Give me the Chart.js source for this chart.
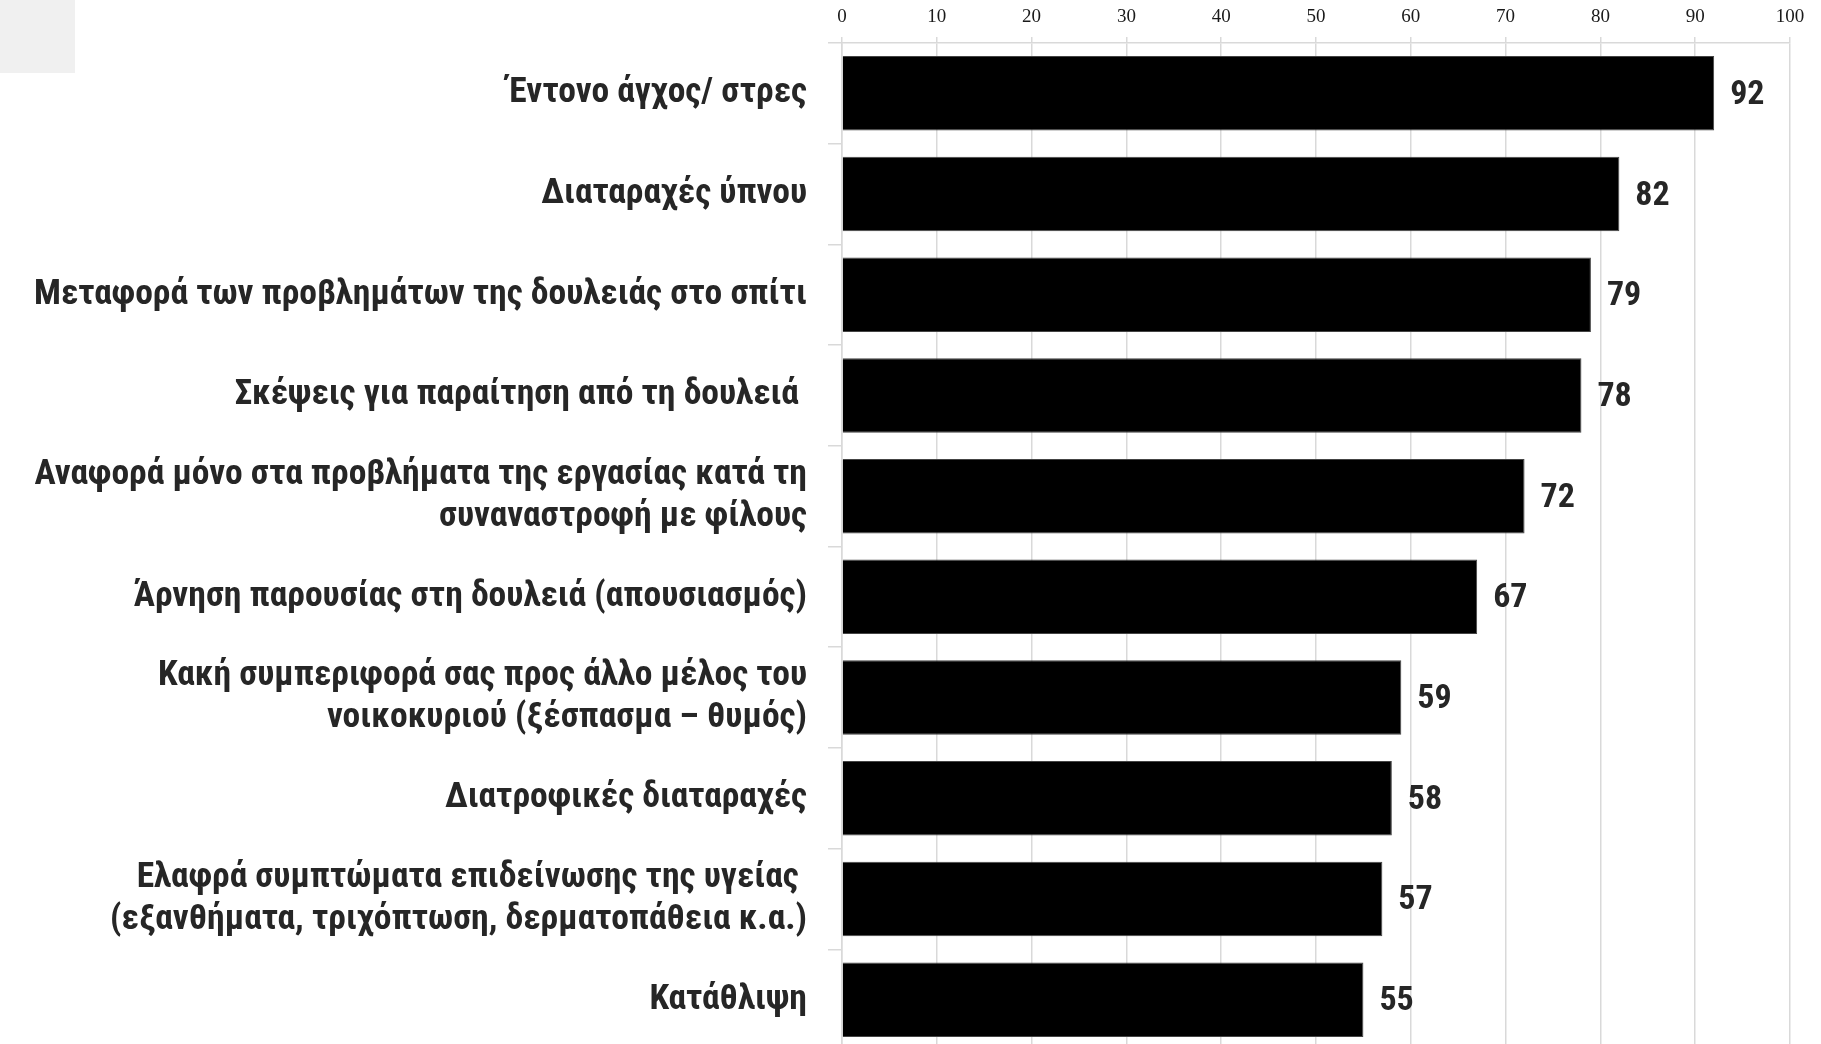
<!DOCTYPE html>
<html>
<head>
<meta charset="utf-8">
<script src="https://cdn.jsdelivr.net/npm/chart.js@4/dist/chart.umd.min.js"></script>
<style>
  html, body { margin: 0; padding: 0; background: #fff; overflow: hidden; }
  #wrap { width: 1821px; height: 1052px; }
</style>
</head>
<body>
<div id="wrap"><canvas id="myChart"></canvas></div>
<script>
const categories = [
  "Έντονο άγχος/ στρες",
  "Διαταραχές ύπνου",
  "Μεταφορά των προβλημάτων της δουλειάς στο σπίτι",
  "Σκέψεις για παραίτηση από τη δουλειά ",
  ["Αναφορά μόνο στα προβλήματα της εργασίας κατά τη", "συναναστροφή με φίλους"],
  "Άρνηση παρουσίας στη δουλειά (απουσιασμός)",
  ["Κακή συμπεριφορά σας προς άλλο μέλος του", "νοικοκυριού (ξέσπασμα – θυμός)"],
  "Διατροφικές διαταραχές",
  ["Ελαφρά συμπτώματα επιδείνωσης της υγείας ", "(εξανθήματα, τριχόπτωση, δερματοπάθεια κ.α.)"],
  "Κατάθλιψη",
];
const values = [92, 82, 79, 78, 72, 67, 59, 58, 57, 55];
const xTicks = [0, 10, 20, 30, 40, 50, 60, 70, 80, 90, 100];

const narrow = "'Liberation Sans Narrow', 'Arial Narrow', 'Roboto Condensed', Roboto, sans-serif";

// value labels at the end of each bar
const valueLabels = {
  id: "valueLabels",
  afterDatasetsDraw(chart) {
    const ctx = chart.ctx;
    const meta = chart.getDatasetMeta(0);
    ctx.save();
    ctx.font = "bold 34px " + narrow;
    ctx.fillStyle = "#262626";
    ctx.textAlign = "left";
    ctx.textBaseline = "middle";
    meta.data.forEach((bar, i) => {
      ctx.fillText(String(values[i]), bar.x + 16, bar.y + 2);
    });
    ctx.restore();
  },
};

// grey corner box left over in the original
const cornerBox = {
  id: "cornerBox",
  beforeDraw(chart) {
    const ctx = chart.ctx;
    ctx.save();
    ctx.fillStyle = "#f0f0f0";
    ctx.fillRect(0, 0, 75, 73);
    ctx.restore();
  },
};

const ctx = document.getElementById("myChart");
const myChart = new Chart(ctx, {
  type: "bar",
  data: {
    labels: categories,
    datasets: [
      {
        data: values,
        backgroundColor: "#000000",
        borderColor: "#444444",
        borderWidth: 1,
        categoryPercentage: 1,
        barPercentage: 0.74,
      },
    ],
  },
  options: {
    indexAxis: "y",
    responsive: true,
    maintainAspectRatio: false,
    animation: false,
    layout: { padding: { top: 0, right: 31, bottom: 2, left: 0 } },
    plugins: {
      legend: { display: false },
      tooltip: { enabled: false },
    },
    scales: {
      x: {
        position: "top",
        min: 0,
        max: 100,
        afterBuildTicks: (scale) => {
          scale.ticks = xTicks.map((v) => ({ value: v }));
        },
        afterFit: (scale) => {
          scale.height = 43;
        },
        grid: {
          color: "#d9d9d9",
          lineWidth: 1.5,
          tickLength: 6,
        },
        border: { color: "#d9d9d9", width: 1.5 },
        ticks: {
          color: "#1a1a1a",
          padding: 9,
          font: { family: "'Liberation Serif', 'DejaVu Serif', serif", size: 19 },
        },
      },
      y: {
        afterFit: (scale) => {
          scale.width = 842;
          scale.paddingTop = 0;
          scale.paddingBottom = 0;
        },
        grid: {
          offset: true,
          drawOnChartArea: false,
          color: "#d9d9d9",
          lineWidth: 1.5,
          tickLength: 14,
        },
        border: { color: "#d9d9d9", width: 1.5 },
        ticks: {
          color: "#262626",
          padding: 21,
          font: { family: narrow, size: 35.5, weight: "bold", lineHeight: 1.18 },
        },
      },
    },
  },
  plugins: [cornerBox, valueLabels],
});
</script>
</body>
</html>
